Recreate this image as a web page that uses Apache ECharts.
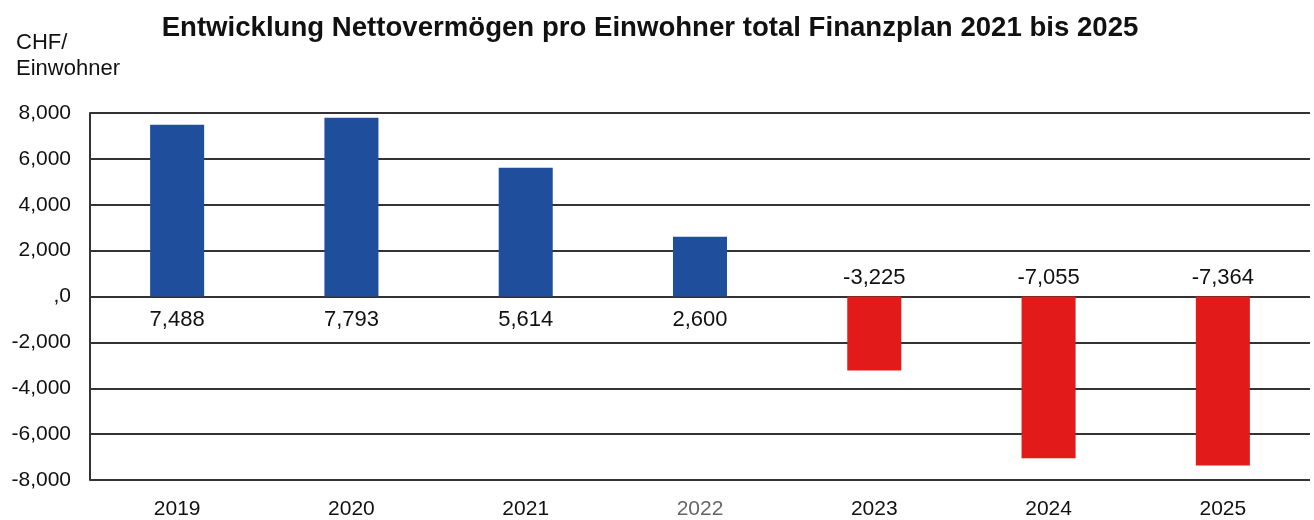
<!DOCTYPE html>
<html>
<head>
<meta charset="utf-8">
<script src="https://cdn.jsdelivr.net/npm/echarts@6/dist/echarts.min.js"></script>
<style>
  html, body { margin: 0; padding: 0; background: #fff; }
  #chart { width: 1314px; height: 520px; }
</style>
</head>
<body>
<div id="chart"></div>
<script>
// Jahre und Nettovermögen pro Einwohner (CHF)
var years = ['2019', '2020', '2021', '2022', '2023', '2024', '2025'];
var values = [7488, 7793, 5614, 2600, -3225, -7055, -7364];
var yTicks = { min: -8000, max: 8000, interval: 2000 };

function fmt(v) {
  if (v === 0) return ',0';
  return v.toLocaleString('en-US');
}

var chart = echarts.init(document.getElementById('chart'));

var barData = values.map(function (v) {
  return {
    value: v,
    itemStyle: { color: v >= 0 ? '#1f4e9c' : '#e31a1a' },
    label: { position: v >= 0 ? 'bottom' : 'top', distance: v >= 0 ? 12 : 8 }
  };
});

var option = {
  animation: false,
  textStyle: { fontFamily: 'Liberation Sans, Arial, sans-serif' },
  title: [
    {
      text: 'Entwicklung Nettovermögen pro Einwohner total Finanzplan 2021 bis 2025',
      left: 645,
      textAlign: 'center',
      top: 9,
      textStyle: { fontSize: 27.6, fontWeight: 'bold', color: '#111', fontFamily: 'Liberation Sans, Arial, sans-serif' }
    },
    {
      text: 'CHF/\nEinwohner',
      left: 11,
      top: 25,
      textStyle: { fontSize: 22, fontWeight: 'normal', color: '#111', lineHeight: 26, fontFamily: 'Liberation Sans, Arial, sans-serif' }
    }
  ],
  grid: { left: 90, right: 4, top: 113, bottom: 39 },
  xAxis: {
    type: 'category',
    data: years,
    axisLine: { show: false },
    axisTick: { show: false },
    axisLabel: {
      fontSize: 21,
      margin: 19,
      color: function (v) { return v === '2022' ? '#666' : '#111'; }
    }
  },
  yAxis: {
    type: 'value',
    min: yTicks.min,
    max: yTicks.max,
    interval: yTicks.interval,
    axisLine: { show: true, lineStyle: { color: '#333', width: 2 } },
    axisTick: { show: false },
    axisLabel: { fontSize: 21, color: '#111', margin: 19, formatter: fmt },
    splitLine: { lineStyle: { color: '#333', width: 2 } }
  },
  series: [
    {
      type: 'bar',
      data: barData,
      barWidth: '31%',
      label: {
        show: true,
        fontSize: 22,
        color: '#111',
        formatter: function (p) { return fmt(p.value); }
      }
    }
  ]
};

chart.setOption(option);
</script>
</body>
</html>
